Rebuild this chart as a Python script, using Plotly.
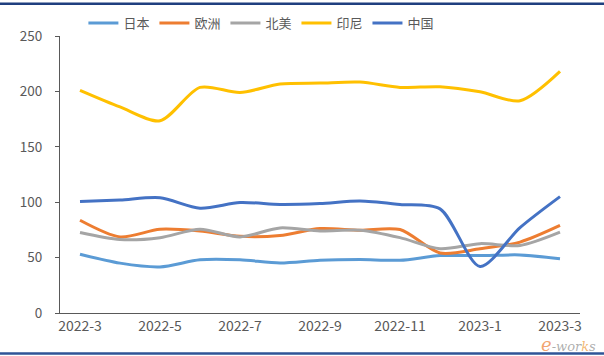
import plotly.graph_objects as go

months = ["2022-3", "2022-4", "2022-5", "2022-6", "2022-7", "2022-8", "2022-9",
          "2022-10", "2022-11", "2022-12", "2023-1", "2023-2", "2023-3"]
tick_labels = ["2022-3", "2022-5", "2022-7", "2022-9", "2022-11", "2023-1", "2023-3"]

japan = [53, 45, 41.6, 48, 48, 45.2, 47.6, 48.2, 47.6, 51.8, 51.8, 52.4, 49]
europe = [83.7, 68.7, 75.6, 74, 69.3, 70, 76.2, 74.7, 75.3, 54.2, 58, 64, 79]
north_america = [72.6, 66.3, 68, 75.6, 68.7, 76.8, 74, 74.7, 68, 58, 62.6, 61, 73]
indonesia = [201, 186, 173.5, 203.6, 199, 206.6, 207.5, 208.4, 203.6, 204.2, 199.6, 191.5, 218]
china = [100.6, 102, 104, 94.6, 99.7, 98, 98.8, 101, 98, 94, 42, 77, 105]

series = [
    ("日本", japan, "#5B9BD5"),
    ("欧洲", europe, "#ED7D31"),
    ("北美", north_america, "#A5A5A5"),
    ("印尼", indonesia, "#FFC000"),
    ("中国", china, "#4472C4"),
]

fig = go.Figure()
for name, vals, color in series:
    fig.add_trace(go.Scatter(
        x=months, y=vals, name=name, mode="lines",
        line=dict(color=color, width=3, shape="spline", smoothing=0.8),
    ))

font_family = "Noto Sans CJK SC, Noto Sans, sans-serif"
PH = 276.7  # plot height in px

fig.update_layout(
    width=604, height=356,
    margin=dict(l=60, r=24, t=36, b=43, autoexpand=False),
    paper_bgcolor="white", plot_bgcolor="white",
    font=dict(family=font_family, size=13, color="#595959"),
    showlegend=True,
    legend=dict(orientation="h", x=0.045, xanchor="left",
                y=(312.7 - 23) / PH, yanchor="middle",
                font=dict(size=13, color="#595959"), itemwidth=30,
                bgcolor="rgba(0,0,0,0)"),
    xaxis=dict(
        type="category", range=[-0.5, 12.5],
        tickmode="array", tickvals=tick_labels, ticktext=tick_labels,
        showline=True, linecolor="#595959", linewidth=1,
        ticks="", showgrid=False, zeroline=False,
        tickfont=dict(size=14, color="#595959"),
    ),
    yaxis=dict(
        range=[0, 250], tickvals=[0, 50, 100, 150, 200, 250],
        showline=True, linecolor="#595959", linewidth=1,
        ticks="outside", ticklen=4, tickcolor="#595959",
        ticklabelstandoff=10,
        showgrid=False, zeroline=False,
        tickfont=dict(size=13.5, color="#595959"),
    ),
)

# top and bottom decorative rules (filled thin rectangles)
def px_to_paper(py):
    return (312.7 - py) / PH

fig.add_shape(type="rect", xref="paper", yref="paper", layer="above",
              x0=-60 / 520, x1=544 / 520, y0=px_to_paper(5), y1=px_to_paper(2.5),
              fillcolor="#1F3F7F", line=dict(width=0))
fig.add_shape(type="rect", xref="paper", yref="paper", layer="above",
              x0=-60 / 520, x1=544 / 520, y0=px_to_paper(354.5), y1=px_to_paper(352),
              fillcolor="#2F5597", line=dict(width=0))

# watermark
fig.add_annotation(xref="paper", yref="paper", x=(598 - 60) / 520, y=px_to_paper(344),
                   text="<i><span style='color:rgba(237,125,49,0.7);font-size:18px'>e</span>"
                        "<span style='color:rgba(120,120,120,0.6)'>-wor</span>"
                        "<span style='color:rgba(237,150,49,0.7)'>k</span>"
                        "<span style='color:rgba(120,120,120,0.6)'>s</span></i>",
                   showarrow=False, xanchor="right", yanchor="middle",
                   font=dict(family="DejaVu Serif", size=13))

fig.write_html("out.html", config={"displayModeBar": False},
               post_script="document.body.style.margin='0';document.body.style.overflow='hidden';")
